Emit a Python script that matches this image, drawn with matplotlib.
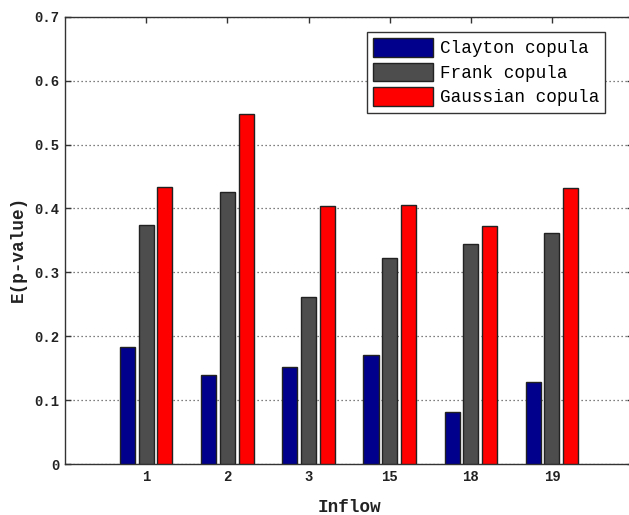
import numpy as np
import matplotlib
matplotlib.use('Agg')
import matplotlib.pyplot as plt

# Mean p-value per inflow site for each copula family
inflows = ['1', '2', '3', '15', '18', '19']
clayton = [0.183, 0.140, 0.152, 0.170, 0.081, 0.128]
frank = [0.374, 0.425, 0.262, 0.323, 0.344, 0.361]
gaussian = [0.433, 0.548, 0.404, 0.406, 0.373, 0.432]

series = [('Clayton copula', clayton, '#00008c'),
          ('Frank copula', frank, '#4d4d4d'),
          ('Gaussian copula', gaussian, '#ff0000')]

plt.rcParams['font.family'] = ['Liberation Mono', 'DejaVu Sans Mono']

fig = plt.figure(figsize=(6.29, 5.15), dpi=100)
# the axes runs slightly past the right edge of the figure
ax = fig.add_axes([0.1035, 0.099, 0.903, 0.8685])

x = np.arange(1, len(inflows) + 1)
width = 0.185
offsets = [-0.23, 0.0, 0.23]
for (name, vals, col), off in zip(series, offsets):
    ax.bar(x + off, vals, width, color=col, edgecolor='#222222',
           linewidth=1.0, label=name, zorder=3)

ax.set_xlim(0, 7)
ax.set_ylim(0, 0.7)
ax.set_xticks(x)
ax.set_xticklabels(inflows)
ax.set_yticks(np.arange(0, 0.71, 0.1))
ax.set_yticklabels(['0'] + ['%.1f' % v for v in np.arange(0.1, 0.71, 0.1)])

ax.yaxis.grid(True, linestyle=(0, (1, 2.2)), color='#555555', linewidth=0.9, zorder=0)
ax.set_axisbelow(True)

for s in ax.spines.values():
    s.set_color('#333333')
    s.set_linewidth(1.0)

ax.tick_params(direction='in', length=4.5, width=1, color='#333333',
               top=True, right=True, labelsize=10, pad=4)
for lab in ax.get_xticklabels() + ax.get_yticklabels():
    lab.set_fontweight('bold')
    lab.set_color('#222222')

ax.set_xlabel('Inflow', fontsize=12.7, fontweight='bold', color='#222222')
ax.xaxis.set_label_coords(0.5, -0.078)
ax.set_ylabel('E(p-value)', fontsize=12.7, fontweight='bold', color='#222222')
ax.yaxis.set_label_coords(-0.067, 0.481)

leg = ax.legend(loc='upper left', bbox_to_anchor=(0.532, 0.966), fontsize=12.7,
                handlelength=3.4, handleheight=1.25, handletextpad=0.35,
                labelspacing=0.3, borderpad=0.35, borderaxespad=0,
                fancybox=False, framealpha=1)
leg.get_frame().set_edgecolor('#333333')
leg.get_frame().set_linewidth(1.0)

fig.savefig('out.png', dpi=100)
